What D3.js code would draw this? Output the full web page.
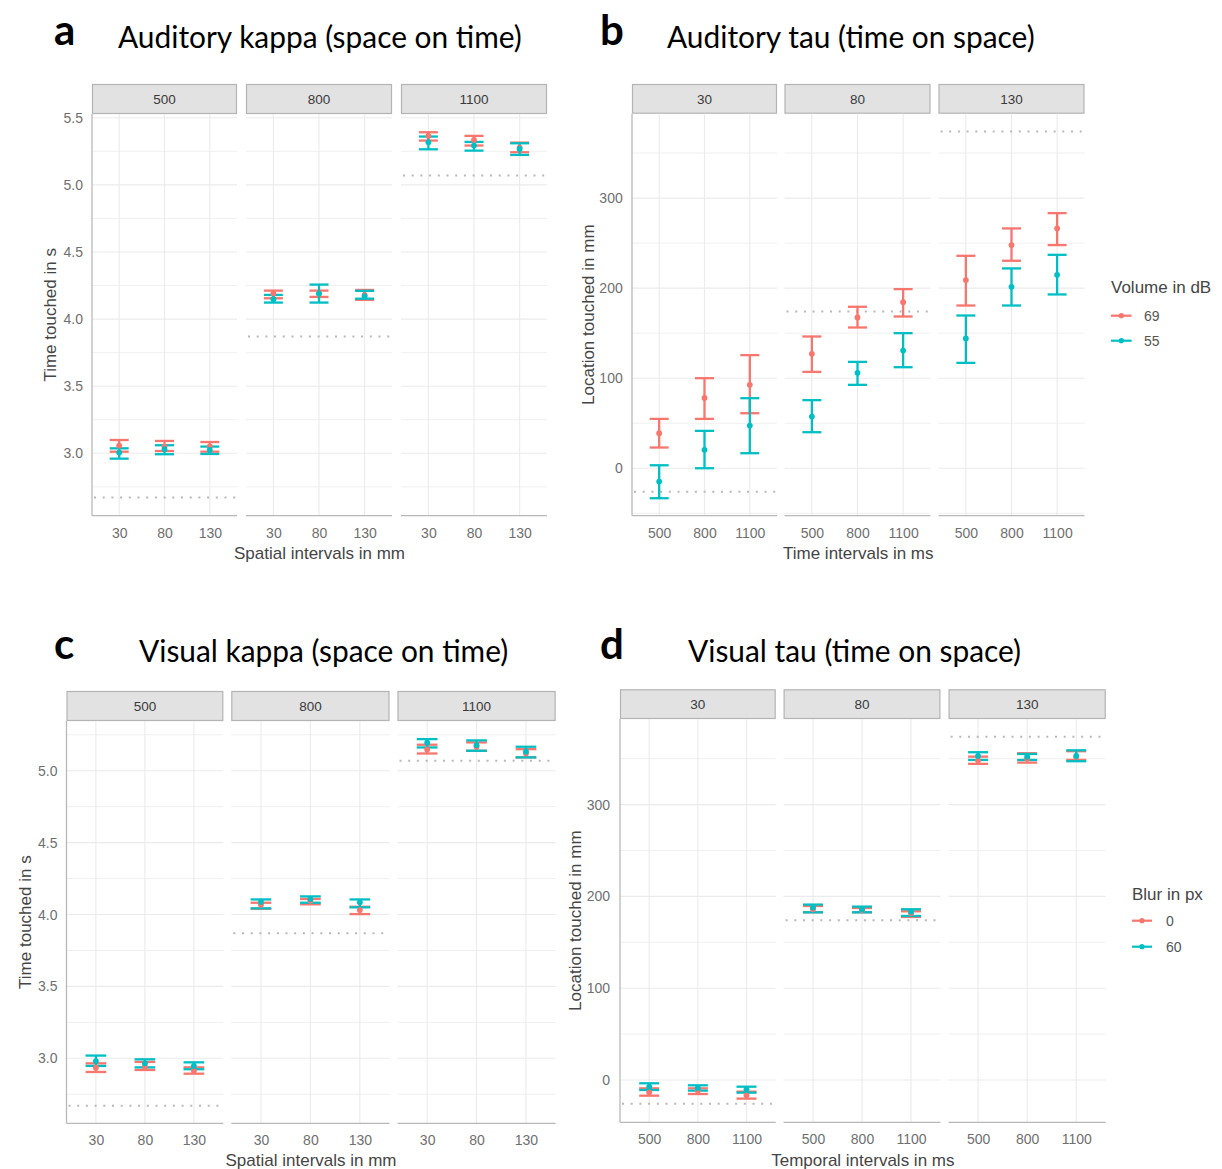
<!DOCTYPE html>
<html>
<head>
<meta charset="utf-8">
<script src="https://cdn.jsdelivr.net/npm/d3@7"></script>
<style>
  html, body { margin: 0; padding: 0; background: #ffffff; }
  svg { display: block; }
</style>
</head>
<body>
<svg id="fig" width="1222" height="1169"></svg>
<script>
// ---------------------------------------------------------------
// Categories
// ---------------------------------------------------------------
const kappaFacets = ["500", "800", "1100"];   // temporal interval facets (ms)
const kappaLevels = ["30", "80", "130"];      // spatial intervals on x (mm)
const tauFacets   = ["30", "80", "130"];      // spatial interval facets (mm)
const tauLevels   = ["500", "800", "1100"];   // temporal intervals on x (ms)

// Expected (physical) values, one per facet, drawn as dotted references
const kappaExpected = [2.67, 3.87, 5.07];
const tauExpected   = [-26, 174, 374];

// Tick values
const kappaTicksA = [3.0, 3.5, 4.0, 4.5, 5.0, 5.5];
const kappaTicksC = [3.0, 3.5, 4.0, 4.5, 5.0];
const tauTicks    = [0, 100, 200, 300];

// Legend labels
const volumeLevels = ["69", "55"];
const blurLevels   = ["0", "60"];

// ---------------------------------------------------------------
// Estimates as [lower, mean, upper]; outer index = facet, inner = x level
// ---------------------------------------------------------------
// a) Auditory kappa, 69 dB
const audKappa69 = [
  [[3.012, 3.057, 3.099], [3.017, 3.050, 3.092], [3.012, 3.052, 3.084]],
  [[4.155, 4.190, 4.212], [4.165, 4.190, 4.212], [4.143, 4.180, 4.217]],
  [[5.330, 5.365, 5.392], [5.293, 5.335, 5.365], [5.243, 5.278, 5.315]]
];
// a) Auditory kappa, 55 dB
const audKappa55 = [
  [[2.960, 3.005, 3.037], [2.993, 3.030, 3.060], [2.995, 3.025, 3.050]],
  [[4.123, 4.148, 4.180], [4.123, 4.190, 4.257], [4.152, 4.170, 4.210]],
  [[5.265, 5.317, 5.360], [5.255, 5.293, 5.320], [5.223, 5.268, 5.310]]
];
// b) Auditory tau, 69 dB
const audTau69 = [
  [[23.0, 38.9, 54.8], [54.8, 78.1, 100.0], [61.1, 92.6, 125.6]],
  [[107.0, 127.0, 146.3], [156.3, 167.4, 179.3], [168.5, 184.4, 198.9]],
  [[180.7, 208.9, 235.9], [230.4, 247.8, 266.3], [247.8, 266.3, 283.3]]
];
// b) Auditory tau, 55 dB
const audTau55 = [
  [[-33.3, -14.8, 3.3], [0.0, 20.4, 41.5], [16.7, 47.4, 77.8]],
  [[40.0, 57.4, 75.6], [92.6, 105.9, 118.1], [112.2, 130.7, 150.0]],
  [[117.0, 144.1, 169.6], [180.7, 201.5, 221.9], [193.0, 214.8, 237.0]]
];
// c) Visual kappa, blur 0 px
const visKappa0 = [
  [[2.905, 2.935, 2.965], [2.919, 2.942, 2.975], [2.893, 2.914, 2.937]],
  [[4.040, 4.068, 4.082], [4.071, 4.096, 4.108], [4.003, 4.031, 4.054]],
  [[5.120, 5.148, 5.181], [5.139, 5.167, 5.197], [5.093, 5.120, 5.150]]
];
// c) Visual kappa, blur 60 px
const visKappa60 = [
  [[2.947, 2.981, 3.019], [2.937, 2.965, 2.993], [2.924, 2.947, 2.972]],
  [[4.043, 4.087, 4.105], [4.082, 4.108, 4.126], [4.050, 4.085, 4.105]],
  [[5.162, 5.195, 5.220], [5.139, 5.178, 5.211], [5.093, 5.132, 5.167]]
];
// d) Visual tau, blur 0 px
const visTau0 = [
  [[-17.1, -13.4, -9.1], [-15.3, -11.6, -9.1], [-20.3, -16.7, -12.7]],
  [[182.7, 186.0, 189.6], [182.7, 185.3, 187.4], [177.6, 181.6, 183.8]],
  [[344.4, 348.0, 352.3], [345.8, 350.2, 356.0], [348.7, 352.3, 358.2]]
];
// d) Visual tau, blur 60 px
const visTau60 = [
  [[-10.9, -7.3, -3.6], [-11.6, -8.7, -5.8], [-13.8, -10.2, -7.3]],
  [[182.7, 187.8, 191.1], [182.7, 186.0, 188.9], [178.7, 183.4, 186.0]],
  [[348.7, 353.1, 357.1], [348.7, 352.3, 355.2], [347.3, 353.1, 359.2]]
];

// ---------------------------------------------------------------
// Styling
// ---------------------------------------------------------------
const RED = "#F8766D";
const TEAL = "#00BFC4";
const AXIS_FONT = "'Liberation Sans', Arial, Helvetica, sans-serif";
const TITLE_FONT = "Lato, 'Open Sans', sans-serif";

const svg = d3.select("#fig");

// ---------------------------------------------------------------
// One faceted panel (three facets side by side)
// ---------------------------------------------------------------
function drawPanel(spec) {
  const g = svg.append("g");
  const y = d3.scaleLinear().domain(spec.yDomain).range([spec.bottom, spec.top]);
  const minorTicks = spec.minor;

  spec.facetX.forEach((fx, fi) => {
    const [x0, x1] = fx;
    const x = d3.scalePoint().domain(spec.levels).range([x0, x1]).padding(0.6);
    const fg = g.append("g");

    // strip
    fg.append("rect")
      .attr("x", x0 + 0.5).attr("y", spec.stripTop + 0.5)
      .attr("width", x1 - x0 - 1).attr("height", spec.top - spec.stripTop - 1)
      .attr("fill", "#e2e2e2").attr("stroke", "#b4b4b4").attr("stroke-width", 1.2);
    fg.append("text")
      .attr("x", (x0 + x1) / 2).attr("y", (spec.stripTop + spec.top) / 2 + 5)
      .attr("text-anchor", "middle")
      .attr("font-family", AXIS_FONT).attr("font-size", 13.5)
      .attr("fill", "#3a3a3a")
      .text(spec.facets[fi]);

    // grid: minor horizontals, major horizontals, verticals
    fg.selectAll(".minor").data(minorTicks).join("line")
      .attr("x1", x0).attr("x2", x1)
      .attr("y1", d => y(d)).attr("y2", d => y(d))
      .attr("stroke", "#f0f0f0").attr("stroke-width", 1);
    fg.selectAll(".major").data(spec.ticks).join("line")
      .attr("x1", x0).attr("x2", x1)
      .attr("y1", d => y(d)).attr("y2", d => y(d))
      .attr("stroke", "#ebebeb").attr("stroke-width", 1.1);
    fg.selectAll(".vgrid").data(spec.levels).join("line")
      .attr("x1", d => x(d)).attr("x2", d => x(d))
      .attr("y1", spec.top).attr("y2", spec.bottom)
      .attr("stroke", "#ebebeb").attr("stroke-width", 1.1);

    // dotted reference value
    fg.append("line")
      .attr("x1", x0 + 2).attr("x2", x1)
      .attr("y1", y(spec.expected[fi])).attr("y2", y(spec.expected[fi]))
      .attr("stroke", "#b8b8b8").attr("stroke-width", 2)
      .attr("stroke-dasharray", "2,6.7");

    // bottom axis line + labels
    const xAxis = d3.axisBottom(x).tickSize(0).tickPadding(spec.xPad);
    const xa = fg.append("g").attr("transform", `translate(0,${spec.bottom})`).call(xAxis);
    xa.select(".domain").remove();
    xa.selectAll("text").attr("font-family", AXIS_FONT).attr("font-size", 14).attr("fill", "#6f6f6f");
    fg.append("line")
      .attr("x1", x0).attr("x2", x1).attr("y1", spec.bottom).attr("y2", spec.bottom)
      .attr("stroke", "#b8b8b8").attr("stroke-width", 1.3);

    // left axis only on the first facet
    if (fi === 0) {
      const yAxis = d3.axisLeft(y).tickValues(spec.ticks).tickSize(0).tickPadding(spec.yPad)
        .tickFormat(spec.tickFormat);
      const ya = fg.append("g").attr("transform", `translate(${x0},0)`).call(yAxis);
      ya.select(".domain").remove();
      ya.selectAll("text").attr("font-family", AXIS_FONT).attr("font-size", 14).attr("fill", "#6f6f6f");
      fg.append("line")
        .attr("x1", x0).attr("x2", x0).attr("y1", spec.top).attr("y2", spec.bottom)
        .attr("stroke", "#b8b8b8").attr("stroke-width", 1.3);
    }

    // error bars: first series, then second drawn over it
    const half = spec.capWidth / 2;
    spec.series.forEach(s => {
      const rows = s.values[fi];
      const eb = fg.append("g").attr("stroke", s.color).attr("stroke-width", 2.3).attr("fill", "none");
      rows.forEach((r, li) => {
        const cx = x(spec.levels[li]);
        eb.append("line").attr("x1", cx).attr("x2", cx).attr("y1", y(r[0])).attr("y2", y(r[2]));
        eb.append("line").attr("x1", cx - half).attr("x2", cx + half).attr("y1", y(r[0])).attr("y2", y(r[0]));
        eb.append("line").attr("x1", cx - half).attr("x2", cx + half).attr("y1", y(r[2])).attr("y2", y(r[2]));
      });
    });
    // means
    spec.series.forEach(s => {
      fg.append("g").selectAll("circle").data(s.values[fi]).join("circle")
        .attr("cx", (d, li) => x(spec.levels[li]))
        .attr("cy", d => y(d[1]))
        .attr("r", 2.9)
        .attr("fill", s.color);
    });
  });

  // axis titles
  const plotLeft = spec.facetX[0][0];
  const plotRight = spec.facetX[spec.facetX.length - 1][1];
  g.append("text")
    .attr("x", (plotLeft + plotRight) / 2).attr("y", spec.xTitleY)
    .attr("text-anchor", "middle")
    .attr("font-family", AXIS_FONT).attr("font-size", 17).attr("fill", "#454545")
    .text(spec.xTitle);
  g.append("text")
    .attr("transform", `translate(${spec.yTitleX},${(spec.top + spec.bottom) / 2}) rotate(-90)`)
    .attr("text-anchor", "middle")
    .attr("font-family", AXIS_FONT).attr("font-size", 17).attr("fill", "#454545")
    .text(spec.yTitle);
}

function range(a, b, step) {
  const out = [];
  for (let v = a; v <= b + 1e-9; v += step) out.push(+v.toFixed(4));
  return out;
}

const fmt1 = d3.format(".1f");
const fmt0 = d3.format("d");

// a) Auditory kappa
drawPanel({
  facets: kappaFacets, levels: kappaLevels, expected: kappaExpected,
  facetX: [[92, 237], [246, 392], [401, 547]],
  stripTop: 84, top: 114, bottom: 515.7,
  yDomain: [2.535, 5.528], ticks: kappaTicksA, minor: range(2.75, 5.25, 0.5),
  tickFormat: fmt1, xPad: 12.4, yPad: 9, capWidth: 19,
  xTitle: "Spatial intervals in mm", xTitleY: 559,
  yTitle: "Time touched in s", yTitleX: 56,
  series: [{ color: RED, values: audKappa69 }, { color: TEAL, values: audKappa55 }]
});

// b) Auditory tau
drawPanel({
  facets: tauFacets, levels: tauLevels, expected: tauExpected,
  facetX: [[632, 777], [784.5, 930.5], [938.5, 1084.5]],
  stripTop: 84, top: 113.7, bottom: 515.7,
  yDomain: [-52.7, 393.7], ticks: tauTicks, minor: range(-50, 350, 100),
  tickFormat: fmt0, xPad: 12.4, yPad: 9.3, capWidth: 19,
  xTitle: "Time intervals in ms", xTitleY: 559,
  yTitle: "Location touched in mm", yTitleX: 594,
  series: [{ color: RED, values: audTau69 }, { color: TEAL, values: audTau55 }]
});

// c) Visual kappa
drawPanel({
  facets: kappaFacets, levels: kappaLevels, expected: kappaExpected,
  facetX: [[66.5, 223.3], [231.3, 389.5], [397.5, 555.6]],
  stripTop: 691, top: 721, bottom: 1123.3,
  yDomain: [2.548, 5.346], ticks: kappaTicksC, minor: range(2.75, 5.25, 0.5),
  tickFormat: fmt1, xPad: 11.8, yPad: 9, capWidth: 20.7,
  xTitle: "Spatial intervals in mm", xTitleY: 1166,
  yTitle: "Time touched in s", yTitleX: 31,
  series: [{ color: RED, values: visKappa0 }, { color: TEAL, values: visKappa60 }]
});

// d) Visual tau
drawPanel({
  facets: tauFacets, levels: tauLevels, expected: tauExpected,
  facetX: [[620, 775.7], [783.6, 940.4], [948.6, 1105.7]],
  stripTop: 689.3, top: 719, bottom: 1122.3,
  yDomain: [-46.1, 393.3], ticks: tauTicks, minor: range(50, 350, 100),
  tickFormat: fmt0, xPad: 11.8, yPad: 10, capWidth: 20,
  xTitle: "Temporal intervals in ms", xTitleY: 1166,
  yTitle: "Location touched in mm", yTitleX: 581,
  series: [{ color: RED, values: visTau0 }, { color: TEAL, values: visTau60 }]
});

// ---------------------------------------------------------------
// Legends
// ---------------------------------------------------------------
function drawLegend(lx, ty, title, labels, colors, rowY, keyW, labelX) {
  const g = svg.append("g");
  g.append("text").attr("x", lx).attr("y", ty)
    .attr("font-family", AXIS_FONT).attr("font-size", 17).attr("fill", "#454545")
    .text(title);
  labels.forEach((lab, i) => {
    const yy = rowY[i];
    g.append("line").attr("x1", lx).attr("x2", lx + keyW).attr("y1", yy).attr("y2", yy)
      .attr("stroke", colors[i]).attr("stroke-width", 2.2);
    g.append("circle").attr("cx", lx + keyW / 2).attr("cy", yy).attr("r", 2.6).attr("fill", colors[i]);
    g.append("text").attr("x", labelX).attr("y", yy + 5)
      .attr("font-family", AXIS_FONT).attr("font-size", 14).attr("fill", "#555")
      .text(lab);
  });
}
drawLegend(1111, 293, "Volume in dB", volumeLevels, [RED, TEAL], [315.7, 340.7], 20.6, 1144);
drawLegend(1132, 900, "Blur in px", blurLevels, [RED, TEAL], [920.7, 946.7], 20, 1166);

// ---------------------------------------------------------------
// Panel letters and headings
// ---------------------------------------------------------------
const headings = [
  { letter: "a", lx: 54, text: "Auditory kappa (space on time)", tx: 118, y: 48 },
  { letter: "b", lx: 600, text: "Auditory tau (time on space)", tx: 667, y: 48 },
  { letter: "c", lx: 54, text: "Visual kappa (space on time)", tx: 139, y: 662 },
  { letter: "d", lx: 600, text: "Visual tau (time on space)", tx: 688, y: 662 }
];

// size the heading font so the first heading spans its intended width
const probe = svg.append("text").attr("font-family", TITLE_FONT).attr("font-size", 30)
  .text(headings[0].text);
const probeW = probe.node().getComputedTextLength();
probe.remove();
const headSize = 30 * 404 / probeW;

headings.forEach(h => {
  svg.append("text").attr("x", h.lx).attr("y", h.y - 3)
    .attr("font-family", TITLE_FONT).attr("font-weight", 700).attr("font-size", 42)
    .attr("fill", "#000").text(h.letter);
  svg.append("text").attr("x", h.tx).attr("y", h.y)
    .attr("font-family", TITLE_FONT).attr("font-size", headSize)
    .attr("fill", "#000").text(h.text);
});
</script>
</body>
</html>
